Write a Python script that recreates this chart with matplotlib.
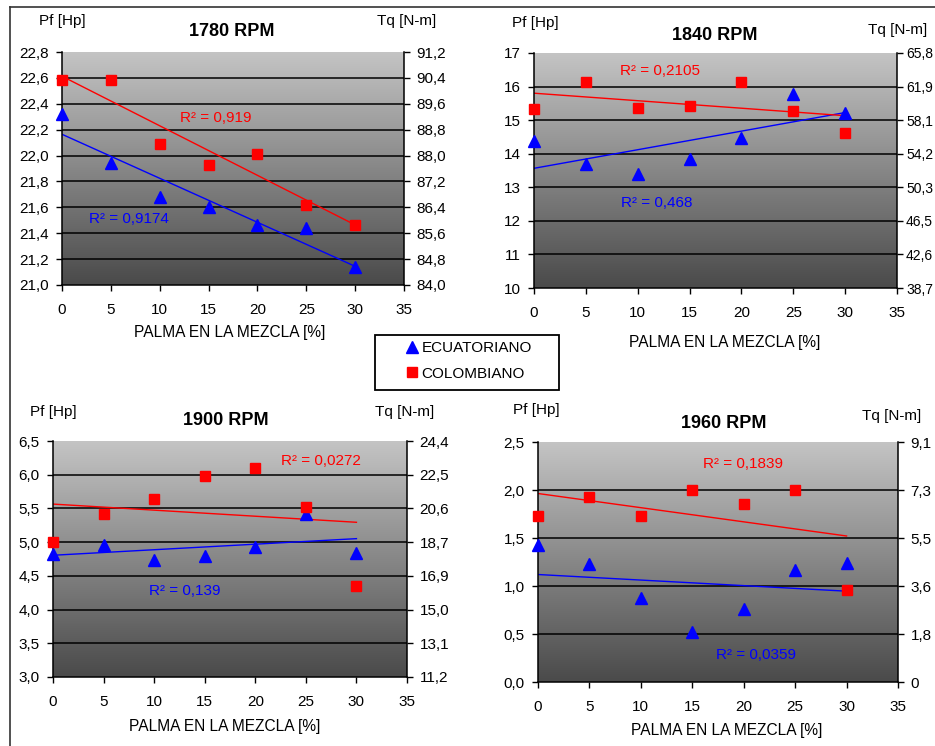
import matplotlib
matplotlib.use("Agg")
import matplotlib.pyplot as plt
import numpy as np
from matplotlib.lines import Line2D
from matplotlib.patches import Rectangle

plt.rcParams['font.family'] = ['Liberation Sans', 'DejaVu Sans']

# palm content in the blend [%]
palma = [0, 5, 10, 15, 20, 25, 30]

# power Pf [Hp] for each engine speed
ecu_1780 = [22.32, 21.94, 21.68, 21.60, 21.46, 21.44, 21.14]
col_1780 = [22.58, 22.58, 22.09, 21.93, 22.01, 21.62, 21.46]
ecu_1840 = [14.37, 13.70, 13.40, 13.84, 14.47, 15.78, 15.21]
col_1840 = [15.34, 16.13, 15.36, 15.43, 16.13, 15.26, 14.62]
ecu_1900 = [4.83, 4.96, 4.73, 4.79, 4.93, 5.42, 4.84]
col_1900 = [5.00, 5.41, 5.645, 5.976, 6.10, 5.52, 4.355]
ecu_1960 = [1.43, 1.23, 0.88, 0.52, 0.76, 1.17, 1.24]
col_1960 = [1.73, 1.93, 1.73, 2.00, 1.85, 2.00, 0.955]

titles = ["1780 RPM", "1840 RPM", "1900 RPM", "1960 RPM"]
r2_ecu = ["0,9174", "0,468", "0,139", "0,0359"]
r2_col = ["0,919", "0,2105", "0,0272", "0,1839"]

pf_ticks = [
    [21.0, 21.2, 21.4, 21.6, 21.8, 22.0, 22.2, 22.4, 22.6, 22.8],
    [10, 11, 12, 13, 14, 15, 16, 17],
    [3.0, 3.5, 4.0, 4.5, 5.0, 5.5, 6.0, 6.5],
    [0.0, 0.5, 1.0, 1.5, 2.0, 2.5],
]
pf_labels = [
    ["21,0", "21,2", "21,4", "21,6", "21,8", "22,0", "22,2", "22,4", "22,6", "22,8"],
    ["10", "11", "12", "13", "14", "15", "16", "17"],
    ["3,0", "3,5", "4,0", "4,5", "5,0", "5,5", "6,0", "6,5"],
    ["0,0", "0,5", "1,0", "1,5", "2,0", "2,5"],
]
tq_labels = [
    ["84,0", "84,8", "85,6", "86,4", "87,2", "88,0", "88,8", "89,6", "90,4", "91,2"],
    ["38,7", "42,6", "46,5", "50,3", "54,2", "58,1", "61,9", "65,8"],
    ["11,2", "13,1", "15,0", "16,9", "18,7", "20,6", "22,5", "24,4"],
    ["0", "1,8", "3,6", "5,5", "7,3", "9,1"],
]
ecu_data = [ecu_1780, ecu_1840, ecu_1900, ecu_1960]
col_data = [col_1780, col_1840, col_1900, col_1960]

W, H = 935, 746
fig = plt.figure(figsize=(W / 100, H / 100), dpi=100)


def fx(x):
    return x / W


def fy(y):
    return 1 - y / H


# axes boxes in pixels: left, top, right, bottom
boxes = [(62, 52, 404, 285), (534, 53, 897, 288), (53, 441, 407, 677), (538, 442, 898, 682)]
# text anchors in pixels (left edge / centre): Pf label, Tq label, title, x label
pf_pos = [(39, 21), (512, 23), (30, 412), (513, 410)]
tq_pos = [(377, 21), (868, 30), (375, 412), (862, 416)]
title_pos = [(232, 32), (715, 35), (226, 420), (724, 423)]
xlab_pos = [(230, 333), (725, 342), (225, 727), (727, 730)]
# R2 label positions (data coords): ecu, col
r2_ecu_pos = [(2.8, 21.51), (8.4, 12.53), (9.5, 4.27), (17.3, 0.28)]
r2_col_pos = [(12.1, 22.29), (8.3, 16.47), (22.5, 6.20), (16.0, 2.27)]
right_size = [11, 10, 11, 11]

grad = np.linspace(0, 1, 256).reshape(-1, 1)
gray_map = matplotlib.colors.LinearSegmentedColormap.from_list("g", ["#c4c4c4", "#4a4a4a"])

for i in range(4):
    l, t, r, b = boxes[i]
    ax = fig.add_axes([fx(l), fy(b), fx(r - l), (b - t) / H])
    ticks = pf_ticks[i]
    y0, y1 = ticks[0], ticks[-1]
    ax.imshow(grad, cmap=gray_map, extent=[0, 35, y0, y1], aspect="auto", zorder=0, origin="upper")
    ax.set_xlim(0, 35)
    ax.set_ylim(y0, y1)
    for yt in ticks[1:-1]:
        ax.axhline(yt, color="black", lw=1.1, zorder=1)

    x = np.array(palma)
    ye = np.array(ecu_data[i])
    yc = np.array(col_data[i])
    me, be = np.polyfit(x, ye, 1)
    mc, bc = np.polyfit(x, yc, 1)
    ax.plot([0, 30], [be, be + me * 30], color="#0000ff", lw=1, zorder=2)
    ax.plot([0, 30], [bc, bc + mc * 30], color="#ff0000", lw=1, zorder=2)
    ax.plot(x, ye, "^", color="#0000ff", ms=8, mec="#0000ff", zorder=3, clip_on=False)
    ax.plot(x, yc, "s", color="#ff0000", ms=7, mec="#ff0000", zorder=4, clip_on=False)

    ax.text(r2_ecu_pos[i][0], r2_ecu_pos[i][1], "R² = " + r2_ecu[i], color="#0000ff",
            fontsize=11, va="center", zorder=5)
    ax.text(r2_col_pos[i][0], r2_col_pos[i][1], "R² = " + r2_col[i], color="#ff0000",
            fontsize=11, va="center", zorder=5)

    ax.set_xticks(range(0, 36, 5))
    ax.set_yticks(ticks)
    ax.set_yticklabels(pf_labels[i])
    ax.tick_params(direction="out", length=4, labelsize=11, colors="black", width=1)
    ax.tick_params(axis="x", pad=9)
    ax.tick_params(axis="y", pad=5.5)
    for s in ["top", "right"]:
        ax.spines[s].set_visible(False)
    ax.spines["left"].set_linewidth(1.1)
    ax.spines["bottom"].set_linewidth(1.1)

    ax2 = ax.twinx()
    ax2.set_ylim(y0, y1)
    ax2.set_yticks(ticks)
    ax2.set_yticklabels(tq_labels[i])
    ax2.tick_params(direction="out", length=4, labelsize=right_size[i], width=1,
                    pad=5 if i != 1 else 2.5)
    for s in ["top", "left", "bottom"]:
        ax2.spines[s].set_visible(False)
    ax2.spines["right"].set_linewidth(1.1)

    fig.text(fx(pf_pos[i][0]), fy(pf_pos[i][1]), "Pf [Hp]", ha="left", va="center", fontsize=11)
    fig.text(fx(tq_pos[i][0]), fy(tq_pos[i][1]), "Tq [N-m]", ha="left", va="center", fontsize=11)
    fig.text(fx(title_pos[i][0]), fy(title_pos[i][1]), titles[i], ha="center", va="center",
             fontsize=13, fontweight="bold")
    fig.text(fx(xlab_pos[i][0]), fy(xlab_pos[i][1]), "PALMA EN LA MEZCLA [%]", ha="center",
             va="center", fontsize=11.2)

# outer frame
fig.add_artist(Line2D([fx(10), 1], [fy(7), fy(7)], color="#333333", lw=1.2))
fig.add_artist(Line2D([fx(10), fx(10)], [fy(7), 0], color="#333333", lw=1.2))

# legend box
fig.add_artist(Rectangle((fx(375), fy(390)), fx(184), 55 / H, transform=fig.transFigure,
                         facecolor="white", edgecolor="black", lw=1.3, zorder=1))
handles = [
    Line2D([], [], ls="none", marker="^", color="#0000ff", ms=8, label="ECUATORIANO"),
    Line2D([], [], ls="none", marker="s", color="#ff0000", ms=7, label="COLOMBIANO"),
]
leg = fig.legend(handles=handles, loc="center", bbox_to_anchor=(fx(469), fy(361)),
                 frameon=False, fontsize=11, handlelength=0.8, handletextpad=0.2,
                 borderpad=0.2, labelspacing=0.75, borderaxespad=0)
leg.set_zorder(2)

fig.savefig("out.png", dpi=100)
